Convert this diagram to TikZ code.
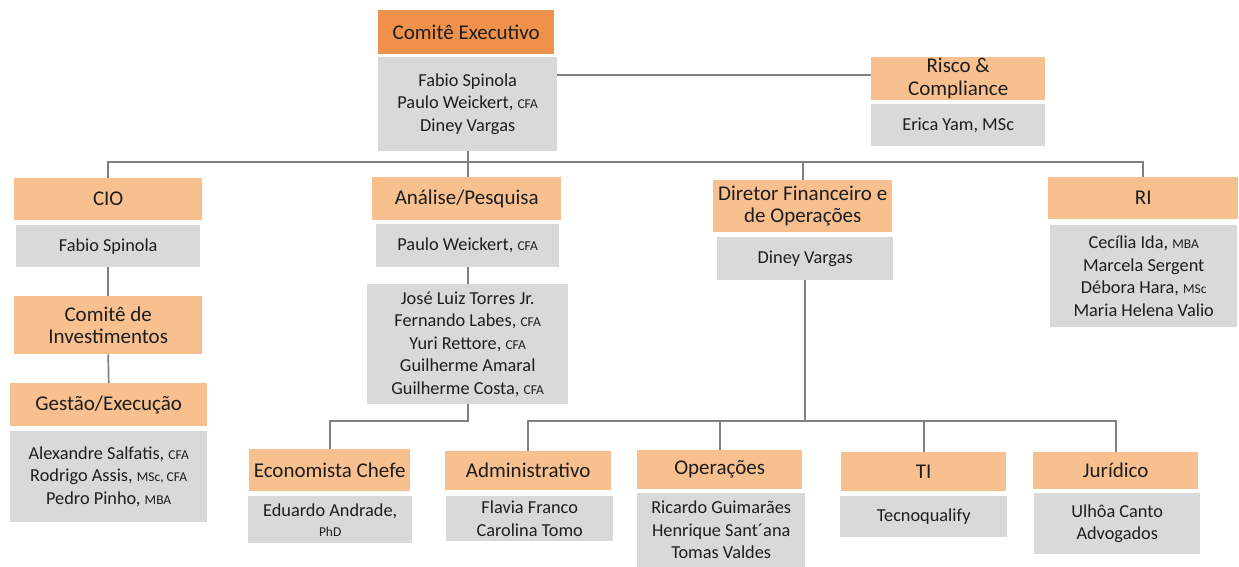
\documentclass[tikz,border=0pt]{standalone}
\usepackage{fontspec}
\setmainfont{Carlito}
\definecolor{hdrorange}{HTML}{F8BF8F}
\definecolor{execorange}{HTML}{F0914B}
\definecolor{boxgray}{HTML}{D9D9D9}
\definecolor{linegray}{HTML}{808080}
\definecolor{txt}{HTML}{1E1E1E}
\newcommand{\qual}[1]{{\fontsize{13.5}{13.5}\selectfont #1}}
\begin{document}
\begin{tikzpicture}[x=1pt,y=-1pt,
  hdr/.style={fill=hdrorange, draw=none, inner sep=0pt, anchor=north west, align=center, text=txt, font=\fontsize{21}{22.5}\selectfont},
  exechdr/.style={hdr, fill=execorange},
  gbox/.style={fill=boxgray, draw=none, inner sep=0pt, anchor=north west, align=center, text=txt, font=\fontsize{18.3}{22.5}\selectfont},
  conn/.style={draw=linegray, line width=1.7pt}]
\useasboundingbox (0,0) rectangle (1239,567);
% top
\node[exechdr, minimum width=176, minimum height=44] (exec) at (378,10) {Comitê Executivo};
\node[gbox, minimum width=179, minimum height=94] (execg) at (378,57) {Fabio Spinola\\Paulo Weickert, \qual{CFA}\\Diney Vargas};
\node[hdr, minimum width=174, minimum height=43] (risk) at (871,57) {Risco \&\\Compliance};
\node[gbox, minimum width=174, minimum height=42] (riskg) at (871,104) {Erica Yam, MSc};
% CIO column
\node[hdr, minimum width=188, minimum height=42] (cio) at (14,178) {CIO};
\node[gbox, minimum width=184, minimum height=42] (ciog) at (16,225) {Fabio Spinola};
\node[hdr, minimum width=188, minimum height=58] (ci) at (14,296) {Comitê de\\Investimentos};
\node[hdr, minimum width=197, minimum height=43] (ges) at (10,383) {Gestão/Execução};
\node[gbox, minimum width=197, minimum height=91] (gesg) at (10,431) {Alexandre Salfatis, \qual{CFA}\\Rodrigo Assis, \qual{MSc, CFA}\\Pedro Pinho, \qual{MBA}};
% Analise column
\node[hdr, minimum width=189, minimum height=43] (ana) at (372,177) {Análise/Pesquisa};
\node[gbox, minimum width=183, minimum height=43] (anag) at (376,224) {Paulo Weickert, \qual{CFA}};
\node[gbox, minimum width=201, minimum height=120] (team) at (367,284) {José Luiz Torres Jr.\\Fernando Labes, \qual{CFA}\\Yuri Rettore, \qual{CFA}\\Guilherme Amaral\\Guilherme Costa, \qual{CFA}};
\node[hdr, minimum width=161, minimum height=42] (eco) at (249,449) {Economista Chefe};
\node[gbox, minimum width=164, minimum height=47, font=\fontsize{18.3}{20}\selectfont] (ecog) at (248,496) {Eduardo Andrade,\\\qual{PhD}};
% Diretor column
\node[hdr, minimum width=179, minimum height=52] (dir) at (713,180) {Diretor Financeiro e\\de Operações};
\node[gbox, minimum width=176, minimum height=43] (dirg) at (717,237) {Diney Vargas};
% RI
\node[hdr, minimum width=190, minimum height=42] (ri) at (1048,177) {RI};
\node[gbox, minimum width=187, minimum height=102] (rig) at (1050,225) {Cecília Ida, \qual{MBA}\\Marcela Sergent\\Débora Hara, \qual{MSc}\\Maria Helena Valio};
% bottom row
\node[hdr, minimum width=166, minimum height=39] (adm) at (445,451) {Administrativo};
\node[gbox, minimum width=167, minimum height=45] (admg) at (446,496) {Flavia Franco\\Carolina Tomo};
\node[hdr, minimum width=165, minimum height=39] (ops) at (637,450) {Operações};
\node[gbox, minimum width=168, minimum height=74] (opsg) at (637,493) {Ricardo Guimarães\\Henrique Sant´ana\\Tomas Valdes};
\node[hdr, minimum width=165, minimum height=39] (ti) at (841,452) {TI};
\node[gbox, minimum width=167, minimum height=41] (tig) at (840,496) {Tecnoqualify};
\node[hdr, minimum width=165, minimum height=37] (jur) at (1033,452) {Jurídico};
\node[gbox, minimum width=166, minimum height=61] (jurg) at (1034,493) {Ulhôa Canto\\Advogados};
% connectors
\coordinate (busA) at (0,162);
\coordinate (busB) at (0,421);
\coordinate (riskline) at (0,75);
\draw[conn] (execg.south) -- (execg.south |- ana.north);
\draw[conn] (risk.west |- riskline) -- (execg.east |- riskline);
\draw[conn] (cio.north) -- (cio.north |- busA) -- (ri.north |- busA) -- (ri.north);
\draw[conn] (dir.north) -- (dir.north |- busA);
\draw[conn] (ciog.south) -- (ci.north);
\draw[conn] (ci.south) -- (ges.north);
\draw[conn] (anag.south) -- (team.north);
\draw[conn] (team.south) -- (team.south |- busB) -| (eco.north);
\draw[conn] (dirg.south) -- (dirg.south |- busB);
\draw[conn] (adm.north) -- (adm.north |- busB) -- (jur.north |- busB) -- (jur.north);
\draw[conn] (ops.north) -- (ops.north |- busB);
\draw[conn] (ti.north) -- (ti.north |- busB);
\end{tikzpicture}
\end{document}
